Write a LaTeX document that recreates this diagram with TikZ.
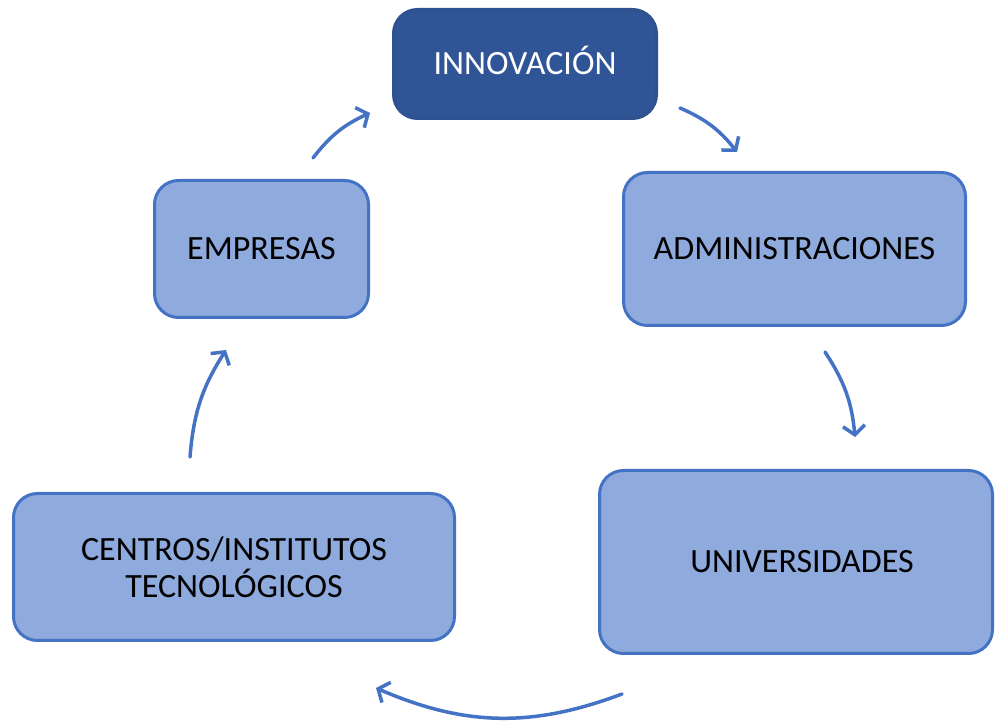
\documentclass[tikz,border=0pt]{standalone}
\usepackage{fontspec}
\setmainfont{Carlito}
\usetikzlibrary{arrows.meta}
\definecolor{darkfill}{HTML}{2F5597}
\definecolor{darkline}{HTML}{2E528F}
\definecolor{lightfill}{HTML}{8FAADC}
\definecolor{accent}{HTML}{4472C4}
\begin{document}
\begin{tikzpicture}[x=1pt,y=1pt,
  box/.style={draw=accent, fill=lightfill, line width=3pt, rounded corners=24pt,
    inner sep=0pt, align=center, font=\fontsize{34}{37}\selectfont, text=black},
  oneline/.style={text height=22pt, text depth=0pt},
  darkbox/.style={box, oneline, draw=darkline, fill=darkfill, text=white},
  flow/.style={draw=accent, line width=3.5pt, line cap=round,
    -{Straight Barb[length=9pt, width=22pt, line width=3.5pt]}}]
\useasboundingbox (0,0) rectangle (995,722);
\node[darkbox, minimum width=263pt, minimum height=109pt] (inno) at (525,658) {INNOVACIÓN};
\node[box, oneline, minimum width=342pt, minimum height=153pt] (admin) at (794.5,473) {ADMINISTRACIONES};
\node[box, oneline, minimum width=214pt, minimum height=137pt] (emp) at (261.5,473) {EMPRESAS};
\node[box, oneline, minimum width=393pt, minimum height=183pt] (univ) at (796,160) {\hspace*{12pt}UNIVERSIDADES};
\node[box, minimum width=441pt, minimum height=147pt] (cent) at (234,155) {CENTROS/INSTITUTOS\\TECNOLÓGICOS};
\coordinate (a1s) at (313,564); \coordinate (a1e) at (370,609);
\coordinate (a2s) at (680,614); \coordinate (a2e) at (737,570);
\coordinate (a3s) at (825,370); \coordinate (a3e) at (855,285);
\coordinate (a4s) at (622,28);  \coordinate (a4e) at (376,34);
\coordinate (a5s) at (190,265); \coordinate (a5e) at (226,372);
\draw[flow] (a1s) to[bend left=14] (a1e);
\draw[flow] (a2s) to[bend left=14] (a2e);
\draw[flow] (a3s) to[bend left=14] (a3e);
\draw[flow] (a4s) to[bend left=22] (a4e);
\draw[flow] (a5s) to[bend left=14] (a5e);
\end{tikzpicture}
\end{document}
